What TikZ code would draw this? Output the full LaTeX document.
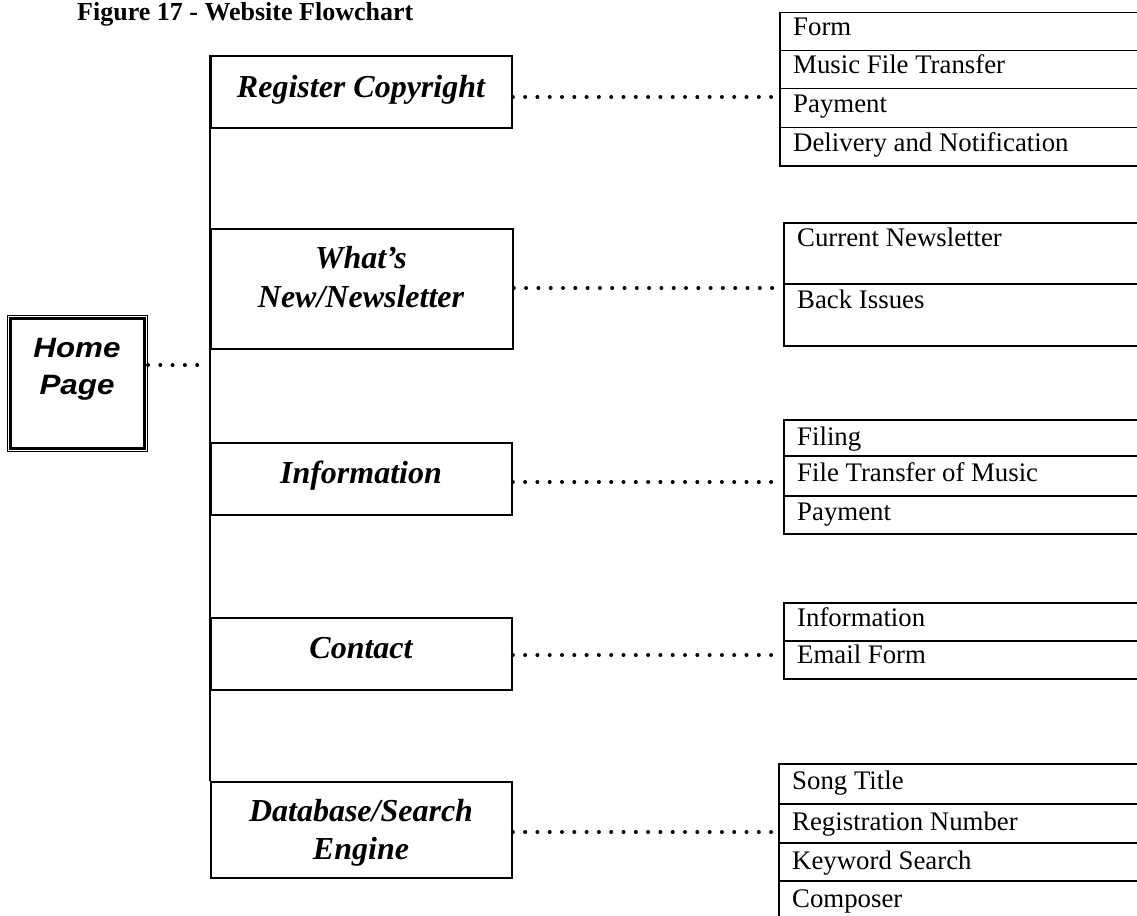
\documentclass[tikz,border=0pt]{standalone}
\usepackage{fontspec}
\setmainfont{Liberation Serif}
\newfontfamily\arialf{Liberation Sans}
\begin{document}
\begin{tikzpicture}[x=1pt,y=-1pt,
  mainbox/.style={draw, line width=1.8pt, rectangle, anchor=north west, inner sep=0pt, minimum width=301pt},
  rowbox/.style={draw, line width=1.5pt, rectangle, anchor=north west, inner sep=0pt, minimum width=362pt},
  mainlabel/.style={anchor=base, inner sep=0pt, font=\bfseries\itshape\fontsize{32}{38}\selectfont, align=center},
  homelabel/.style={anchor=base, inner sep=0pt, font=\arialf\bfseries\itshape\fontsize{28}{38}\selectfont},
  rowlabel/.style={anchor=base west, inner sep=0pt, font=\fontsize{26.8}{30}\selectfont},
  dotline/.style={line width=4pt, line cap=round, dash pattern=on 0pt off 12.3pt}
]
\useasboundingbox (0,0) rectangle (1137,915);
\clip (0,0) rectangle (1137,915);

% title
\node[anchor=base west, inner sep=0pt, font=\bfseries\fontsize{26}{30}\selectfont] (title) at (77,21) {Figure 17 - Website Flowchart};

% home page
\node[draw, line width=1pt, rectangle, anchor=north west, inner sep=0pt, minimum width=140pt, minimum height=136pt] (home) at (7,315) {};
\draw[line width=3pt] ([shift={(3.5,3.5)}]home.north west) rectangle ([shift={(-3.5,-3.5)}]home.south east);
\node[homelabel] (homet1) at (77,357) {\scalebox{1.12}[1]{Home}};
\node[homelabel] (homet2) at (77,394) {\scalebox{1.12}[1]{Page}};
\coordinate (homeend) at (200,365);
\draw[dotline] (home.east |- homeend) -- (homeend);

% main boxes
\node[mainbox, minimum height=72pt] (reg) at (210,55) {};
\node[mainbox, minimum height=120pt, minimum width=302pt] (news) at (210,228) {};
\node[mainbox, minimum height=72pt] (info) at (210,442) {};
\node[mainbox, minimum height=72pt] (cont) at (210,617) {};
\node[mainbox, minimum height=96pt] (db) at (210,781) {};
\draw[line width=1.8pt] (reg.north west) -- (db.north west);

\node[mainlabel] (regt) at (361,98) {Register Copyright};
\node[mainlabel] (newst1) at (361,268) {What’s};
\node[mainlabel] (newst2) at (361,307) {New/Newsletter};
\node[mainlabel] (infot) at (361,483) {Information};
\node[mainlabel] (contt) at (361,658) {Contact};
\node[mainlabel] (dbt1) at (361,821) {Database/Search};
\node[mainlabel] (dbt2) at (361,859) {Engine};

% register children
\node[rowbox, minimum height=38pt] (r1) at (779,12) {};
\node[rowbox, minimum height=38pt] (r2) at (779,50) {};
\node[rowbox, minimum height=39pt] (r3) at (779,88) {};
\node[rowbox, minimum height=38pt] (r4) at (779,127) {};
\node[rowlabel] (r1t) at (793,36) {Form};
\node[rowlabel] (r2t) at (793,74) {Music File Transfer};
\node[rowlabel] (r3t) at (793,113) {Payment};
\node[rowlabel] (r4t) at (793,151) {Delivery and Notification};

% newsletter children
\node[rowbox, minimum height=61pt] (n1) at (783,222) {};
\node[rowbox, minimum height=62pt] (n2) at (783,283) {};
\node[rowlabel] (n1t) at (797,246) {Current Newsletter};
\node[rowlabel] (n2t) at (797,308) {Back Issues};

% information children
\node[rowbox, minimum height=36pt] (i1) at (783,419) {};
\node[rowbox, minimum height=40pt] (i2) at (783,455) {};
\node[rowbox, minimum height=38pt] (i3) at (783,495) {};
\node[rowlabel] (i1t) at (797,445) {Filing};
\node[rowlabel] (i2t) at (797,481) {File Transfer of Music};
\node[rowlabel] (i3t) at (797,520) {Payment};

% contact children
\node[rowbox, minimum height=38pt] (c1) at (783,602) {};
\node[rowbox, minimum height=38pt] (c2) at (783,640) {};
\node[rowlabel] (c1t) at (797,626) {Information};
\node[rowlabel] (c2t) at (797,663) {Email Form};

% database children
\node[rowbox, minimum height=40pt] (d1) at (778,763) {};
\node[rowbox, minimum height=39pt] (d2) at (778,803) {};
\node[rowbox, minimum height=38pt] (d3) at (778,842) {};
\node[rowbox, minimum height=38pt] (d4) at (778,880) {};
\node[rowlabel] (d1t) at (792,789) {Song Title};
\node[rowlabel] (d2t) at (792,830) {Registration Number};
\node[rowlabel] (d3t) at (792,869) {Keyword Search};
\node[rowlabel] (d4t) at (792,907) {Composer};

% dotted connectors
\coordinate (ry) at (0,97);
\coordinate (ny) at (0,288);
\coordinate (iy) at (0,482);
\coordinate (cy) at (0,655);
\coordinate (dy) at (0,832);
\draw[dotline] (reg.east |- ry) -- (r3.west |- ry);
\draw[dotline] (news.east |- ny) -- (n2.west |- ny);
\draw[dotline] (info.east |- iy) -- (i2.west |- iy);
\draw[dotline] (cont.east |- cy) -- (c2.west |- cy);
\draw[dotline] (db.east |- dy) -- (d2.west |- dy);
\end{tikzpicture}
\end{document}
